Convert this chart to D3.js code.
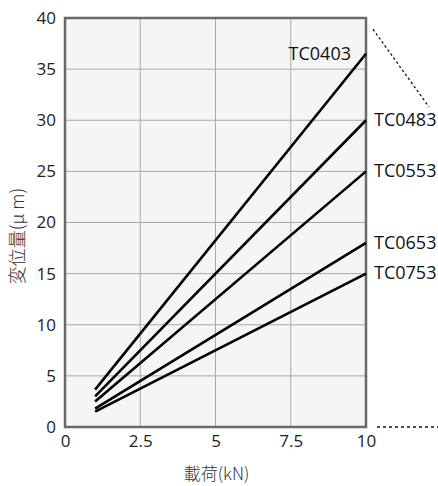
<!DOCTYPE html>
<html><head><meta charset="utf-8">
<script src="https://cdn.jsdelivr.net/npm/d3@7"></script>
<style>body{margin:0;background:#fff}</style>
</head><body>
<script>
const seriesNames = ["TC0403","TC0483","TC0553","TC0653","TC0753"];
const loads = [1, 10];
const disp = {
  TC0403: [3.65, 36.5],
  TC0483: [3.0, 30.0],
  TC0553: [2.5, 25.0],
  TC0653: [1.8, 18.0],
  TC0753: [1.5, 15.0]
};
const xTicks = [0, 2.5, 5, 7.5, 10];
const xTickLabels = ["0","2.5","5","7.5","10"];
const yTicks = [0,5,10,15,20,25,30,35,40];

const W = 438, H = 486;
const m = {l:65, r:72, t:18, b:59};
const svg = d3.select("body").append("svg").attr("width",W).attr("height",H);
const x = d3.scaleLinear().domain([0,10]).range([m.l, W-m.r]);
const y = d3.scaleLinear().domain([0,40]).range([H-m.b, m.t]);
const font = "'Open Sans','Noto Sans',sans-serif";

svg.append("rect").attr("x",x(0)).attr("y",y(40)).attr("width",x(10)-x(0)).attr("height",y(0)-y(40)).attr("fill","#f4f6f6");

// grid
svg.append("g").selectAll("line").data(xTicks.slice(1,-1)).join("line")
  .attr("x1",d=>x(d)).attr("x2",d=>x(d)).attr("y1",y(0)).attr("y2",y(40))
  .attr("stroke","#a8a8a8").attr("stroke-width",1);
svg.append("g").selectAll("line").data(yTicks.slice(1,-1)).join("line")
  .attr("y1",d=>y(d)).attr("y2",d=>y(d)).attr("x1",x(0)).attr("x2",x(10))
  .attr("stroke","#a8a8a8").attr("stroke-width",1);

// axes with d3
const xAxis = d3.axisBottom(x).tickValues(xTicks).tickFormat((d,i)=>xTickLabels[i]).tickSize(0).tickPadding(8);
const gx = svg.append("g").attr("transform",`translate(0,${y(0)})`).call(xAxis);
gx.select(".domain").remove();
gx.selectAll("text").attr("font-family",font).attr("font-size",17).attr("fill","#222");
const yAxis = d3.axisLeft(y).tickValues(yTicks).tickSize(0).tickPadding(9);
const gy = svg.append("g").attr("transform",`translate(${x(0)},0)`).call(yAxis);
gy.select(".domain").remove();
gy.selectAll("text").attr("font-family",font).attr("font-size",17).attr("fill","#222");

// border
svg.append("rect").attr("x",x(0)).attr("y",y(40)).attr("width",x(10)-x(0)).attr("height",y(0)-y(40))
  .attr("fill","none").attr("stroke","#6a6a6a").attr("stroke-width",2.5);

// lines
const line = d3.line().x((d,i)=>x(loads[i])).y(d=>y(d));
seriesNames.forEach(n=>{
  svg.append("path").attr("d",line(disp[n])).attr("fill","none").attr("stroke","#000").attr("stroke-width",2.6);
});

// labels
seriesNames.forEach((n,i)=>{
  const v = disp[n][1];
  const t = svg.append("text").text(n).attr("font-family",font).attr("font-size",18).attr("fill","#111")
    .attr("dominant-baseline","middle");
  if(i===0){
    t.attr("x",x(10)-15).attr("y",y(v)+1).attr("text-anchor","end");
  } else {
    t.attr("x",x(10)+8).attr("y",y(v)+1).attr("text-anchor","start");
  }
});

// dotted guides
svg.append("line").attr("x1",x(10)+7).attr("y1",y(38.9)).attr("x2",x(10)+63).attr("y2",y(31.3))
  .attr("stroke","#111").attr("stroke-width",1.3).attr("stroke-dasharray","2.5,2.5");
svg.append("line").attr("x1",x(10)+11).attr("y1",y(0)).attr("x2",W).attr("y2",y(0))
  .attr("stroke","#111").attr("stroke-width",1.3).attr("stroke-dasharray","3,3");

// axis titles
svg.append("text").text("載荷(kN)").attr("x",x(5)+1).attr("y",480).attr("text-anchor","middle")
  .attr("font-family","'Noto Sans CJK JP',sans-serif").attr("font-weight",300).attr("font-size",17).attr("fill","#333");
svg.append("text").text("変位量(μ m)").attr("transform",`translate(24,236) rotate(-90)`).attr("text-anchor","middle")
  .attr("font-family","'Noto Sans CJK JP',sans-serif").attr("font-weight",300).attr("font-size",18).attr("fill","#333");
</script>
</body></html>
